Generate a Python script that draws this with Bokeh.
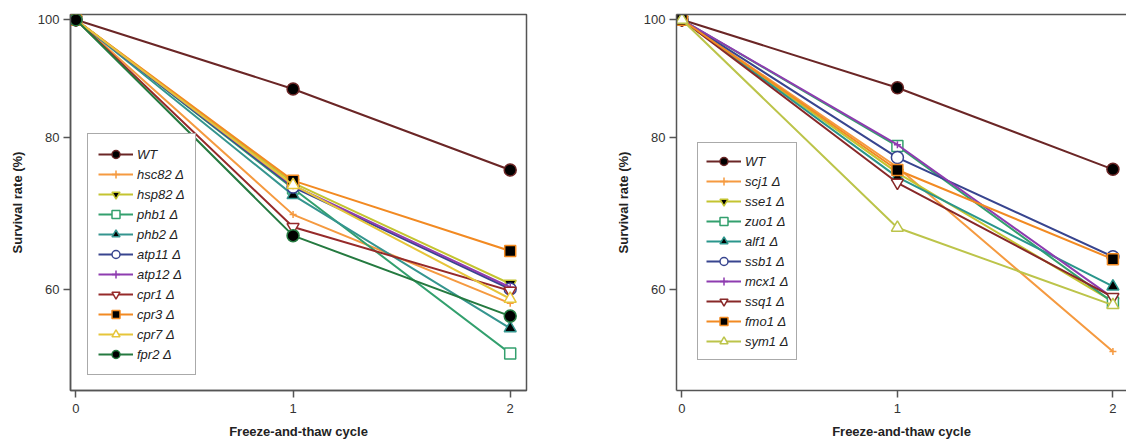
from bokeh.plotting import figure
from bokeh.layouts import row
from bokeh.models import Range1d, FixedTicker, PrintfTickFormatter, Legend, LegendItem, LinearAxis
from bokeh.embed import file_html
from bokeh.resources import INLINE

cycles = [0, 1, 2]
x_ticks = [0, 1, 2]
y_ticks = [60, 80, 100]

# Left panel
left_names = ["WT", "hsc82 Δ", "hsp82 Δ", "phb1 Δ", "phb2 Δ", "atp11 Δ", "atp12 Δ", "cpr1 Δ", "cpr3 Δ", "cpr7 Δ", "fpr2 Δ"]
wt_l = [100, 87.7, 75.2]
hsc82 = [100, 69.1, 58.4]
hsp82 = [100, 73.4, 60.6]
phb1 = [100, 72.6, 53.1]
phb2 = [100, 71.7, 55.7]
atp11 = [100, 72.8, 60.0]
atp12 = [100, 73.0, 60.2]
cpr1 = [100, 67.5, 59.8]
cpr3 = [100, 73.7, 64.5]
cpr7 = [100, 73.1, 58.9]
fpr2 = [100, 66.4, 57.0]
left_values = [wt_l, hsc82, hsp82, phb1, phb2, atp11, atp12, cpr1, cpr3, cpr7, fpr2]

# Right panel
right_names = ["WT", "scj1 Δ", "sse1 Δ", "zuo1 Δ", "alf1 Δ", "ssb1 Δ", "mcx1 Δ", "ssq1 Δ", "fmo1 Δ", "sym1 Δ"]
wt_r = [100, 87.9, 75.3]
scj1 = [100, 75.6, 53.3]
sse1 = [100, 74.8, 58.6]
zuo1 = [100, 78.7, 58.5]
alf1 = [100, 74.2, 60.3]
ssb1 = [100, 77.0, 63.8]
mcx1 = [100, 78.9, 59.0]
ssq1 = [100, 73.4, 59.1]
fmo1 = [100, 75.2, 63.5]
sym1 = [100, 67.4, 58.2]
right_values = [wt_r, scj1, sse1, zuo1, alf1, ssb1, mcx1, ssq1, fmo1, sym1]

# styles: (line colour, marker, fill)
left_styles = [
    ("#6b2626", "circle", "black"),
    ("#f59a40", "cross", None),
    ("#c4c430", "inverted_triangle", "black"),
    ("#33a06e", "square", "white"),
    ("#35958f", "triangle", "black"),
    ("#38458f", "circle", "white"),
    ("#8e3cb0", "cross", None),
    ("#962a2a", "inverted_triangle", "white"),
    ("#f28a22", "square", "black"),
    ("#e6c53a", "triangle", "white"),
    ("#257a40", "circle", "black"),
]
right_styles = [
    ("#6b2626", "circle", "black"),
    ("#f59a40", "cross", None),
    ("#c4c430", "inverted_triangle", "black"),
    ("#33a06e", "square", "white"),
    ("#2a968c", "triangle", "black"),
    ("#38458f", "circle", "white"),
    ("#8e3cb0", "cross", None),
    ("#882828", "inverted_triangle", "white"),
    ("#f28a22", "square", "black"),
    ("#bcc44a", "triangle", "white"),
]

FONT = "Liberation Sans"
AX = "#555555"
ITEM_H = 20


def make_panel(names, values, styles, mb_left, mb_right, x_end, frame_w, legend_loc, legend_pad, full_box):
    p = figure(frame_width=frame_w, frame_height=376, y_axis_type="log",
               x_range=Range1d(-0.025, x_end), y_range=Range1d(49.5, 101),
               output_backend="svg", toolbar_location=None,
               min_border_left=mb_left, min_border_right=mb_right,
               min_border_top=14, min_border_bottom=52)
    p.grid.visible = False
    p.background_fill_color = "white"
    p.border_fill_color = "white"

    xa = p.below[0]
    ya = p.left[0]
    for ax in (xa, ya):
        ax.axis_line_color = AX
        ax.axis_line_width = 1.5
        ax.major_tick_line_color = AX
        ax.major_tick_line_width = 1.5
        ax.major_tick_in = 0
        ax.major_tick_out = 7
        ax.minor_tick_line_color = None
        ax.major_label_text_font = FONT
        ax.major_label_text_font_size = "13px"
        ax.major_label_text_color = "#333333"
        ax.axis_label_text_font = FONT
        ax.axis_label_text_font_size = "13px"
        ax.axis_label_text_font_style = "bold"
        ax.axis_label_text_color = "#222222"

    xa.ticker = FixedTicker(ticks=x_ticks)
    ya.ticker = FixedTicker(ticks=y_ticks)
    ya.formatter = PrintfTickFormatter(format="%d")
    xa.axis_label = "Freeze-and-thaw cycle"
    ya.axis_label = "Survival rate (%)"
    ya.axis_label_standoff = 10
    xa.axis_label_standoff = 8
    xa.major_label_standoff = 6
    ya.major_label_standoff = 4

    if full_box:
        p.outline_line_color = AX
        p.outline_line_width = 1.5
    else:
        p.outline_line_color = None
        top = LinearAxis(ticker=FixedTicker(ticks=[]), axis_line_color=AX, axis_line_width=1.5,
                         major_tick_line_color=None, minor_tick_line_color=None,
                         major_tick_out=0, major_tick_in=0, major_label_standoff=0,
                         major_label_text_font_size="0px")
        p.add_layout(top, "above")

    items = []
    for name, vals, (col, mk, fill) in zip(names, values, styles):
        lr = p.line(cycles, vals, line_color=col, line_width=2)
        if mk == "cross":
            sr = p.scatter(cycles, vals, marker="cross", size=7, line_color=col, line_width=1.5)
        else:
            sz = 11 if mk == "square" else 12
            sr = p.scatter(cycles, vals, marker=mk, size=sz, fill_color=fill, line_color=col, line_width=1.5)
        items.append(LegendItem(label=name, renderers=[lr, sr]))

    leg = Legend(items=items, location=legend_loc)
    leg.label_text_font = FONT
    leg.label_text_font_size = "13px"
    leg.label_text_font_style = "italic"
    leg.label_text_color = "#222222"
    leg.glyph_width = 35
    leg.glyph_height = ITEM_H
    leg.label_height = ITEM_H
    leg.spacing = 0
    leg.padding = legend_pad
    leg.margin = 0
    leg.label_standoff = 4
    leg.border_line_color = AX
    leg.border_line_width = 1.5
    leg.background_fill_color = "white"
    leg.background_fill_alpha = 1
    p.add_layout(leg, "center")
    return p


left = make_panel(left_names, left_values, left_styles, 70, 10, 2.075, 456, (17, 15), 10, True)
right = make_panel(right_names, right_values, right_styles, 140, 0, 2.063, 450, (21, 30), 8, False)

layout = row(left, right)
open("out.html", "w").write(file_html(layout, INLINE))
